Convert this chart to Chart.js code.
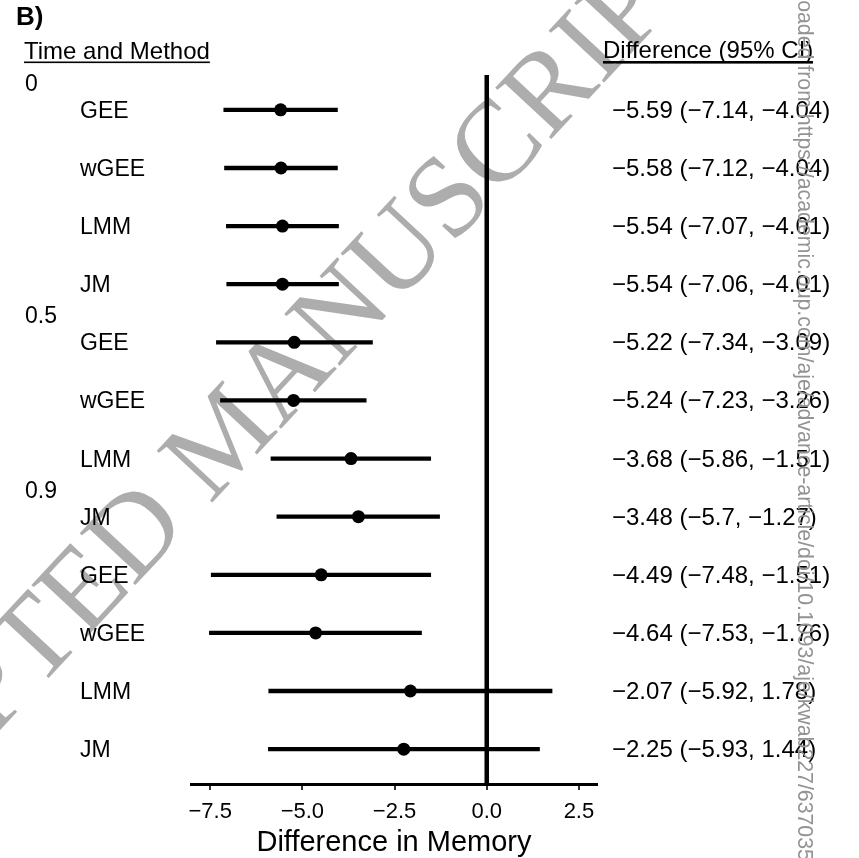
<!DOCTYPE html>
<html><head><meta charset="utf-8">
<script src="https://cdn.jsdelivr.net/npm/chart.js@4/dist/chart.umd.min.js"></script>
<style>html,body{margin:0;padding:0;background:#fff;}</style>
</head><body>
<canvas id="c" width="859" height="858" style="display:block;width:859px;height:858px"></canvas>
<script>
// ---- data ----
const timeGroups = ['0', '0.5', '0.9'];
const methods = ['GEE','wGEE','LMM','JM','GEE','wGEE','LMM','JM','GEE','wGEE','LMM','JM'];
const estimates = [-5.59, -5.58, -5.54, -5.54, -5.22, -5.24, -3.68, -3.48, -4.49, -4.64, -2.07, -2.25];
const lowerCI   = [-7.14, -7.12, -7.07, -7.06, -7.34, -7.23, -5.86, -5.7, -7.48, -7.53, -5.92, -5.93];
const upperCI   = [-4.04, -4.04, -4.01, -4.01, -3.09, -3.26, -1.51, -1.27, -1.51, -1.76, 1.78, 1.44];
const xTicks = [-7.5, -5.0, -2.5, 0.0, 2.5];
const xTickLabels = ['\u22127.5', '\u22125.0', '\u22122.5', '0.0', '2.5'];
const xAxisTitle = 'Difference in Memory';

// ---- layout constants ----
const groupLabelRow = [-0.46, 3.53, 6.54];
const X_MIN = -8.02, X_MAX = 2.99, Y_MIN = -0.6, Y_MAX = 11.6;
const FONT = '"Liberation Sans", Arial, sans-serif';
const WM = { size: 116, angle: -47, ax: 210, ay: 505 };

const fmt = v => String(v).replace('-', '\u2212');
const rowText = estimates.map((e, i) => `${fmt(e)} (${fmt(lowerCI[i])}, ${fmt(upperCI[i])})`);

const rows = methods.map((m, i) => i);
const pointDs = {
  data: rows.map(i => ({x: estimates[i], y: i})),
  pointRadius: 6.5, pointHoverRadius: 6.5, backgroundColor: '#000', borderColor: '#000', borderWidth: 0, showLine: false
};
const ciDs = rows.map(i => ({
  data: [{x: lowerCI[i], y: i}, {x: upperCI[i], y: i}],
  showLine: true, borderColor: '#000', borderWidth: 4.3, pointRadius: 0, borderCapStyle: 'butt'
}));
const zeroDs = {
  data: [{x: 0, y: Y_MIN}, {x: 0, y: Y_MAX}],
  showLine: true, borderColor: '#000', borderWidth: 4.5, pointRadius: 0, borderCapStyle: 'butt'
};

const textPlugin = {
  id: 'texts',
  beforeDraw(chart) {
    const ctx = chart.ctx;
    ctx.save();
    ctx.fillStyle = '#fff';
    ctx.fillRect(0, 0, chart.width, chart.height);
    // watermark
    ctx.fillStyle = '#adadad';
    ctx.font = WM.size + 'px "Liberation Serif", serif';
    const pre = ctx.measureText('ACCEPTED ').width;
    const ang = WM.angle * Math.PI / 180;
    const px = WM.ax - pre * Math.cos(ang), py = WM.ay - pre * Math.sin(ang);
    ctx.translate(px, py);
    ctx.rotate(ang);
    ctx.textAlign = 'left';
    ctx.textBaseline = 'alphabetic';
    ctx.fillText('ACCEPTED MANUSCRIPT', 0, 0);
    ctx.restore();
  },
  afterDraw(chart) {
    const ctx = chart.ctx;
    const ys = chart.scales.y;
    const area = chart.chartArea;
    ctx.save();
    ctx.fillStyle = '#000';
    ctx.textAlign = 'left';
    ctx.textBaseline = 'alphabetic';
    ctx.font = 'bold 26px ' + FONT;
    ctx.fillText('B)', 16, 25);
    ctx.font = '24px ' + FONT;
    ctx.fillText('Time and Method', 24, 59);
    let w = ctx.measureText('Time and Method').width;
    ctx.fillRect(24, 61.5, w, 1.6);
    ctx.fillText('Difference (95% CI)', 603, 58);
    ctx.fillRect(603, 61, 210, 2.6);
    ctx.font = '23px ' + FONT;
    timeGroups.forEach((g, k) => {
      ctx.fillText(g, 25, ys.getPixelForValue(groupLabelRow[k]) + 8);
    });
    methods.forEach((m, i) => {
      ctx.fillText(m, 80, ys.getPixelForValue(i) + 8);
    });
    ctx.font = '24px ' + FONT;
    rowText.forEach((t, i) => {
      ctx.fillText(t, 612, ys.getPixelForValue(i) + 8);
    });
    // x axis title
    ctx.font = '29px ' + FONT;
    ctx.textAlign = 'center';
    ctx.fillText(xAxisTitle, (area.left + area.right) / 2, 851);
    ctx.textAlign = 'left';
    // side download note
    ctx.fillStyle = '#939393';
    ctx.font = '21.3px ' + FONT;
    ctx.translate(798, -59);
    ctx.rotate(Math.PI / 2);
    ctx.fillText('Downloaded from https://academic.oup.com/aje/advance-article/doi/10.1093/aje/kwab227/6370355 by guest', 0, 0);
    ctx.restore();
  }
};

new Chart(document.getElementById('c'), {
  type: 'scatter',
  data: { datasets: [pointDs, ...ciDs, zeroDs] },
  options: {
    responsive: false, animation: false, devicePixelRatio: 1,
    layout: { padding: { left: 191, right: 262, top: 75, bottom: 23.6 } },
    plugins: { legend: { display: false }, tooltip: { enabled: false } },
    scales: {
      x: {
        type: 'linear', position: 'bottom', min: X_MIN, max: X_MAX,
        afterBuildTicks: s => { s.ticks = xTicks.map(v => ({value: v})); },
        grid: { drawOnChartArea: false, drawTicks: true, tickLength: 6, color: '#333', lineWidth: 2 },
        border: { display: true, color: '#000', width: 3 },
        ticks: { font: { family: FONT, size: 22 }, color: '#000', padding: 9,
                 callback: (v) => { const k = xTicks.indexOf(v); return k >= 0 ? xTickLabels[k] : ''; } },
        title: { display: false }
      },
      y: { type: 'linear', min: Y_MIN, max: Y_MAX, reverse: true, display: false }
    }
  },
  plugins: [textPlugin]
});
</script>
</body></html>
